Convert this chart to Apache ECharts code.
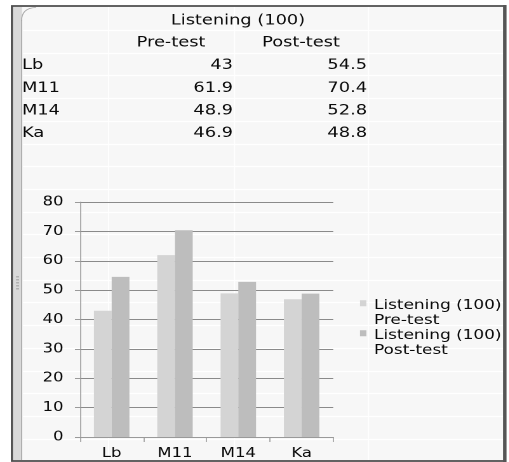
<!DOCTYPE html>
<html>
<head>
<meta charset="utf-8">
<script src="https://cdn.jsdelivr.net/npm/echarts@6/dist/echarts.min.js"></script>
<style>
  html, body { margin: 0; padding: 0; background: #ffffff; overflow: hidden; }
  /* the sheet view is drawn narrow and widened horizontally */
  #chart { width: 401px; height: 462px; transform: scaleX(1.27); transform-origin: 0 0; }
</style>
</head>
<body>
<div id="chart"></div>
<script>
// Listening scores (out of 100) per class, before and after the course
const tableTitle = 'Listening (100)';
const columnNames = ['Pre-test', 'Post-test'];
const classes = ['Lb', 'M11', 'M14', 'Ka'];
const preTest = [43, 61.9, 48.9, 46.9];
const postTest = [54.5, 70.4, 52.8, 48.8];
const yTicks = { min: 0, max: 80, step: 10 };

const FONT = 'DejaVu Sans';
const SX = 1.27;                       // horizontal stretch of the view
const px = function (x) { return x / SX; };  // page x -> drawing x

const chart = echarts.init(document.getElementById('chart'), null, { devicePixelRatio: 2 });

// Worksheet frame and faint cell lines behind the table and chart
const sheet = [];
sheet.push({ type: 'rect', shape: { x: px(12), y: 6, width: px(493), height: 455 },
  style: { fill: '#f7f7f7', stroke: '#4d4d4d', lineWidth: 1.8 }, z: -10 });
sheet.push({ type: 'rect', shape: { x: px(503), y: 5, width: px(3.5), height: 457 },
  style: { fill: '#555555' }, z: 20 });
sheet.push({ type: 'rect', shape: { x: px(13), y: 7, width: px(9), height: 453 },
  style: { fill: '#d9d9d9' }, z: -9 });
sheet.push({ type: 'line', shape: { x1: px(21.5), y1: 20, x2: px(21.5), y2: 460 },
  style: { stroke: '#a8a8a8', lineWidth: 0.8 }, z: -9 });
sheet.push({ type: 'bezierCurve',
  shape: { x1: px(21.5), y1: 21, cpx1: px(21.5), cpy1: 8, x2: px(36), y2: 7.5 },
  style: { stroke: '#a8a8a8', lineWidth: 0.8, fill: null }, z: -8 });
for (let i = 0; i < 5; i++) {
  sheet.push({ type: 'rect', shape: { x: px(16), y: 276 + i * 3, width: px(3), height: 1.5 },
    style: { fill: '#b0b0b0' }, z: -8 });
}
[108, 234, 368].forEach(function (x) {
  sheet.push({ type: 'line', shape: { x1: px(x + 0.5), y1: 7, x2: px(x + 0.5), y2: 460 },
    style: { stroke: '#ffffff', lineWidth: 1 }, z: -7 });
});
for (let k = 0; k <= 18; k++) {
  const y = Math.round(30 + k * 22.7) + 0.5;
  sheet.push({ type: 'line', shape: { x1: px(23), y1: y, x2: px(503), y2: y },
    style: { stroke: '#ffffff', lineWidth: 1.2 }, z: -7 });
}

// Data table above the chart
const cellText = { fontFamily: FONT, fontSize: 14, fill: '#0a0a0a' };
const table = [];
table.push({ type: 'text', x: px(238), y: 21,
  style: Object.assign({ text: tableTitle, align: 'center', verticalAlign: 'middle' }, cellText) });
table.push({ type: 'text', x: px(171), y: 43,
  style: Object.assign({ text: columnNames[0], align: 'center', verticalAlign: 'middle' }, cellText) });
table.push({ type: 'text', x: px(301), y: 43,
  style: Object.assign({ text: columnNames[1], align: 'center', verticalAlign: 'middle' }, cellText) });
classes.forEach(function (name, i) {
  const y = 65.5 + i * 22.7;
  table.push({ type: 'text', x: px(22), y: y,
    style: Object.assign({ text: name, align: 'left', verticalAlign: 'middle' }, cellText) });
  table.push({ type: 'text', x: px(233), y: y,
    style: Object.assign({ text: String(preTest[i]), align: 'right', verticalAlign: 'middle' }, cellText) });
  table.push({ type: 'text', x: px(367), y: y,
    style: Object.assign({ text: String(postTest[i]), align: 'right', verticalAlign: 'middle' }, cellText) });
});

// Legend icon: small square aligned with the first text line
const legendIcon = 'path://M0,4.5h5v6h-5z M0,29.95h0.05v0.05h-0.05z';

chart.setOption({
  animation: false,
  backgroundColor: 'transparent',
  graphic: sheet.concat(table),
  grid: { left: px(80), right: px(176), top: 202, bottom: 25, containLabel: false },
  legend: {
    orient: 'vertical',
    left: px(360) - 5,
    top: 293,
    itemWidth: 5,
    itemHeight: 30,
    itemGap: 0,
    icon: legendIcon,
    textStyle: { fontFamily: FONT, fontSize: 13.3, color: '#0a0a0a', lineHeight: 15, padding: [0, 0, 0, 1] },
    data: [tableTitle + '\n' + columnNames[0], tableTitle + '\n' + columnNames[1]]
  },
  xAxis: {
    type: 'category',
    data: classes,
    axisLine: { lineStyle: { color: '#9a9a9a', width: 1 } },
    axisTick: { show: true, length: 5, lineStyle: { color: '#9a9a9a', width: 0.8 } },
    axisLabel: { fontFamily: FONT, fontSize: 13, color: '#0a0a0a', margin: 10 },
    splitLine: { show: false }
  },
  yAxis: {
    type: 'value',
    min: yTicks.min,
    max: yTicks.max,
    interval: yTicks.step,
    axisLine: { show: true, lineStyle: { color: '#9a9a9a', width: 0.8 } },
    axisTick: { show: true, length: 4, lineStyle: { color: '#9a9a9a' } },
    axisLabel: { fontFamily: FONT, fontSize: 13, color: '#0a0a0a', margin: 13 },
    splitLine: { show: true, lineStyle: { color: '#8a8a8a', width: 1 } }
  },
  series: [
    {
      name: tableTitle + '\n' + columnNames[0],
      type: 'bar',
      data: preTest,
      barGap: '0%',
      barCategoryGap: '44%',
      itemStyle: { color: '#d4d4d4' }
    },
    {
      name: tableTitle + '\n' + columnNames[1],
      type: 'bar',
      data: postTest,
      itemStyle: { color: '#bdbdbd' }
    }
  ]
});
</script>
</body>
</html>
